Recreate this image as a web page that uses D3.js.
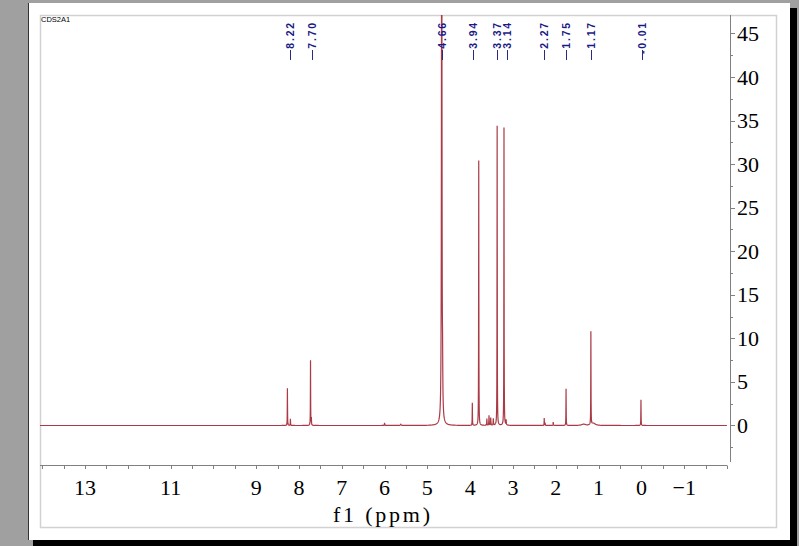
<!DOCTYPE html>
<html><head><meta charset="utf-8">
<script src="https://cdn.jsdelivr.net/npm/d3@7"></script>
<style>html,body{margin:0;padding:0;background:#a0a0a0;overflow:hidden}</style>
</head><body>
<svg id="c" width="799" height="546"></svg>
<script>
// ---------- data ----------
const sampleName = "CDS2A1";
const xTickValues = [13, 11, 9, 8, 7, 6, 5, 4, 3, 2, 1, 0, -1];
const yTickValues = [0, 5, 10, 15, 20, 25, 30, 35, 40, 45];
const peakLabels = [8.22, 7.70, 4.66, 3.94, 3.37, 3.14, 2.27, 1.75, 1.17, -0.01];
// peaks: position (ppm), height, half-width (ppm)
const peakPpm    = [8.27, 8.20, 7.73, 7.71, 6.00, 5.62, 4.665, 4.645, 3.95, 3.80, 3.61, 3.56, 3.52, 3.46, 3.37, 3.21, 3.16, 2.27, 2.25, 2.06, 1.76, 1.35, 1.18, 1.12, 0.01];
const peakHeight = [4.28, 0.77, 7.46, 0.8, 0.3, 0.15, 80, 4.0, 2.6, 30.4, 0.77, 1.15, 0.88, 0.77, 34.4, 34.2, 0.57, 0.84, 0.3, 0.38, 4.2, 0.15, 10.7, 0.25, 2.95];
const peakWidth  = [0.003, 0.003, 0.003, 0.003, 0.004, 0.01, 0.006, 0.005, 0.003, 0.003, 0.004, 0.004, 0.004, 0.004, 0.003, 0.003, 0.004, 0.003, 0.004, 0.004, 0.003, 0.05, 0.003, 0.05, 0.003];

// ---------- layout ----------
const svg = d3.select("#c");
const W = 799, H = 546;
const plot = {left: 40, right: 727, top: 15, bottom: 462, axisY: 465, yAxisX: 730};

svg.append("rect").attr("x", 0).attr("y", 0).attr("width", W).attr("height", H).attr("fill", "#a0a0a0");
svg.append("rect").attr("x", 33).attr("y", 8).attr("width", 764).attr("height", 540).attr("fill", "#000");
svg.append("rect").attr("x", 28).attr("y", 3).attr("width", 762).attr("height", 537).attr("fill", "#fff");
svg.append("line").attr("x1", 28.5).attr("x2", 28.5).attr("y1", 3).attr("y2", 540).attr("stroke", "#333").attr("stroke-width", 1);
svg.append("rect").attr("x", 40.5).attr("y", 15.5).attr("width", 736).attr("height", 512)
  .attr("fill", "none").attr("stroke", "#d2d2d2").attr("stroke-width", 1.5);

const x = d3.scaleLinear().domain([14.05, -2.0]).range([plot.left, plot.right]);
const y = d3.scaleLinear().domain([-4.19, 47.12]).range([plot.bottom, plot.top]);

// sample name
svg.append("text").attr("x", 41).attr("y", 22).text(sampleName)
  .attr("font-family", "Liberation Sans, Arial, sans-serif").attr("font-size", 7.5).attr("fill", "#000");

// ---------- spectrum ----------
const grid = d3.range(14.05, -2.0, -0.0025);
peakPpm.forEach(p => grid.push(p));
grid.sort((a, b) => b - a);
const spectrum = grid.map(v => {
  let s = 0;
  for (let i = 0; i < peakPpm.length; i++) {
    const d = v - peakPpm[i], w = peakWidth[i];
    s += peakHeight[i] * w * w / (d * d + w * w);
  }
  return [v, s];
});

svg.append("clipPath").attr("id", "clip").append("rect")
  .attr("x", plot.left).attr("y", plot.top).attr("width", plot.right - plot.left).attr("height", plot.axisY - plot.top);

svg.append("path").datum(spectrum)
  .attr("clip-path", "url(#clip)")
  .attr("fill", "none").attr("stroke", "#aa3a45").attr("stroke-width", 1.2)
  .attr("d", d3.line().x(d => x(d[0])).y(d => y(Math.min(d[1], 60))));

// ---------- x axis ----------
const xAxisG = svg.append("g").attr("transform", `translate(0,${plot.axisY})`);
xAxisG.append("line").attr("x1", plot.left).attr("x2", plot.right).attr("y1", 0.5).attr("y2", 0.5)
  .attr("stroke", "#808080").attr("stroke-width", 1);
const xMinor = d3.range(14.0, -2.01, -0.5);
xAxisG.selectAll("line.t").data(xMinor).join("line").attr("class", "t")
  .attr("x1", d => Math.round(x(d)) + 0.5).attr("x2", d => Math.round(x(d)) + 0.5)
  .attr("y1", 0.5).attr("y2", 4).attr("stroke", "#808080");
xAxisG.selectAll("text").data(xTickValues).join("text")
  .attr("x", d => x(d)).attr("y", 30).attr("text-anchor", "middle")
  .attr("font-family", "Liberation Serif, Times New Roman, serif").attr("font-size", 22).attr("fill", "#000")
  .text(d => d < 0 ? "\u2212" + Math.abs(d) : d);
svg.append("text").attr("x", 333).attr("y", 522).attr("textLength", 97).attr("lengthAdjust", "spacing")
  .attr("font-family", "Liberation Serif, Times New Roman, serif").attr("font-size", 22).attr("fill", "#000")
  .text("f1 (ppm)");

// ---------- y axis ----------
const yAxisG = svg.append("g");
yAxisG.append("line").attr("x1", plot.yAxisX + 0.5).attr("x2", plot.yAxisX + 0.5)
  .attr("y1", plot.top).attr("y2", plot.bottom).attr("stroke", "#808080");
const yMinor = d3.range(-2.5, 46, 2.5);
yAxisG.selectAll("line.t").data(yMinor).join("line").attr("class", "t")
  .attr("x1", plot.yAxisX + 0.5).attr("x2", d => plot.yAxisX + (d % 5 === 0 ? 5 : 3))
  .attr("y1", d => Math.round(y(d)) + 0.5).attr("y2", d => Math.round(y(d)) + 0.5).attr("stroke", "#808080");
yAxisG.selectAll("text").data(yTickValues).join("text")
  .attr("x", 737).attr("y", d => y(d) + 7.5)
  .attr("font-family", "Liberation Serif, Times New Roman, serif").attr("font-size", 22).attr("fill", "#000")
  .text(d => d);

// ---------- peak labels ----------
const lg = svg.append("g");
lg.selectAll("line").data(peakLabels).join("line")
  .attr("x1", d => Math.round(x(d)) + 0.5).attr("x2", d => Math.round(x(d)) + 0.5)
  .attr("y1", 50).attr("y2", 60).attr("stroke", "#2a2a80").attr("stroke-width", 1);
lg.selectAll("text").data(peakLabels).join("text")
  .attr("transform", d => `translate(${Math.round(x(d)) + 4},21) rotate(-90)`)
  .attr("text-anchor", "end")
  .attr("font-family", "Liberation Sans, Arial, sans-serif").attr("font-weight", "bold")
  .attr("font-size", 10.5).attr("letter-spacing", 1.8).attr("fill", "#1a1a86")
  .text(d => d.toFixed(2));
</script>
</body></html>
